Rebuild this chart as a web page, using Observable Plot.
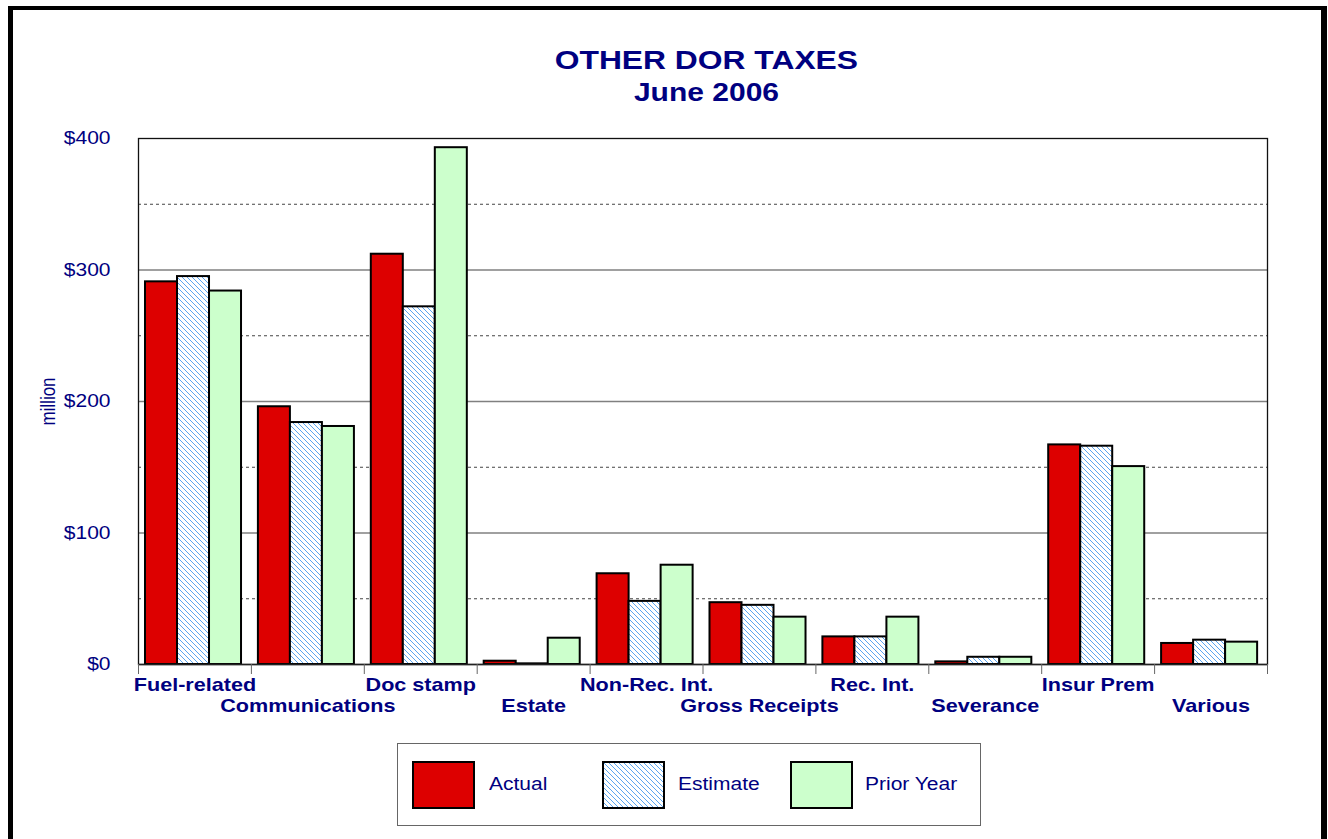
<!DOCTYPE html>
<html>
<head>
<meta charset="utf-8">
<script src="https://cdn.jsdelivr.net/npm/d3@7"></script>
<script src="https://cdn.jsdelivr.net/npm/@observablehq/plot@0.6"></script>
<style>
  body { margin: 0; background: #fff; }
  #page { position: relative; width: 1328px; height: 839px; overflow: hidden; background: #fff;
          font-family: "Liberation Sans", Arial, sans-serif; color: #000080; }
  #chart { position: absolute; left: 0; top: 0; }
  #frame { position: absolute; left: 8px; top: 6px; width: 1319px; height: 900px; box-sizing: border-box;
           border-left: 5px solid #000; border-top: 4px solid #000; border-right: 6px solid #000; pointer-events: none; }
  .t { position: absolute; left: 0; width: 1413px; text-align: center; font-weight: bold; line-height: 30px; white-space: nowrap; }
  .t span { display: inline-block; transform: scaleX(1.2); }
  #legend { position: absolute; left: 397px; top: 743px; width: 584px; height: 83px; box-sizing: border-box;
            border: 1px solid #666; background: #fff; }
  .sw { position: absolute; top: 17px; width: 63px; height: 48px; box-sizing: border-box; border: 2px solid #000; }
  .lt { position: absolute; top: 30px; line-height: 20px; font-size: 17.5px; transform: scaleX(1.2);
        transform-origin: left center; white-space: nowrap; }
</style>
</head>
<body>
<div id="page">
  <div id="chart"></div>
  <div id="frame"></div>
  <div class="t" id="t1" style="top:45px;font-size:26.5px;"><span>OTHER DOR TAXES</span></div>
  <div class="t" id="t2" style="top:77px;font-size:25px;"><span>June 2006</span></div>
  <div id="legend"></div>
</div>
<script>
// ---- data ----
const categories = ["Fuel-related", "Communications", "Doc stamp", "Estate", "Non-Rec. Int.",
                    "Gross Receipts", "Rec. Int.", "Severance", "Insur Prem", "Various"];
const actual   = [291, 196, 312, 2.5, 69, 47, 21, 2, 167, 16];
const estimate = [295, 184, 272, 0.5, 48, 45, 21, 5.5, 166, 18.5];
const prior    = [284, 181, 393, 20, 75.5, 36, 36, 5.5, 150.5, 17];
const seriesNames = ["Actual", "Estimate", "Prior Year"];
const yTicks = [0, 100, 200, 300, 400];
const gridMajor = [100, 200, 300];
const gridMinor = [50, 150, 250, 350];

// ---- styles ----
const fills = ["#dd0000", "url(#hatch)", "#ccffcc"];
const navy = "#000080";

const rows = categories.flatMap((c, i) =>
  [actual, estimate, prior].map((arr, j) => ({cat: c, i, j, series: seriesNames[j], value: arr[i]})));

const groupInset = 0.062, barW = 0.2835;
const barMark = j => Plot.rect(rows.filter(d => d.j === j), {
  x1: d => d.i + groupInset + d.j * barW,
  x2: d => d.i + groupInset + (d.j + 1) * barW,
  y1: 0, y2: d => d.value,
  fill: fills[j], stroke: "#000", strokeWidth: 2
});

const labelRows = categories.map((c, i) => ({c, i}));

const plot = Plot.plot({
  width: 1328, height: 839,
  marginTop: 138, marginBottom: 175, marginLeft: 138, marginRight: 61,
  x: {domain: [0, categories.length], axis: null},
  y: {domain: [0, 400], axis: null},
  style: {fontFamily: "'Liberation Sans', Arial, sans-serif", fontSize: "17.5px", color: navy, background: "transparent"},
  marks: [
    Plot.ruleY(gridMinor, {stroke: "#444", strokeWidth: 1, strokeDasharray: "3,3"}),
    Plot.ruleY(gridMajor, {stroke: "#808080", strokeWidth: 1.5}),
    barMark(0), barMark(1), barMark(2),
    Plot.frame({stroke: "#111", strokeWidth: 1.3}),
    Plot.ruleY([0], {stroke: "#222", strokeWidth: 1.5}),
    Plot.axisX({anchor: "bottom", ticks: d3.range(categories.length + 1), tickSize: 10,
                tickFormat: () => "", stroke: "#666", label: null}),
    Plot.axisY({anchor: "left", ticks: yTicks, tickFormat: d => "$" + d, tickSize: 0, tickPadding: 28,
                fontSize: 17.5, label: null}),
    Plot.text(["million"], {text: d => d, frameAnchor: "left", textAnchor: "middle", dx: -90, rotate: -90, fontSize: 17}),
    Plot.text(labelRows.filter(d => d.i % 2 === 0), {x: d => d.i + 0.5, y: 0, text: "c", dy: 21,
                fontWeight: "bold", fontSize: 18, fill: navy}),
    Plot.text(labelRows.filter(d => d.i % 2 === 1), {x: d => d.i + 0.5, y: 0, text: "c", dy: 42,
                fontWeight: "bold", fontSize: 18, fill: navy})
  ]
});

// hatch pattern
const defs = document.createElementNS("http://www.w3.org/2000/svg", "defs");
defs.innerHTML = `<pattern id="hatch" patternUnits="userSpaceOnUse" width="5" height="5">
  <rect width="5" height="5" fill="#fff"/>
  <path d="M-1,-1L6,6M-1,4L1,6M4,-1L6,1" stroke="#5aa5f0" stroke-width="1"/>
</pattern>`;
plot.insertBefore(defs, plot.firstChild);

// horizontal stretch of text, as in the reference
plot.querySelectorAll("text").forEach(t => {
  const tr = t.getAttribute("transform") || "";
  const x = parseFloat(t.getAttribute("x")) || 0;
  const y = parseFloat(t.getAttribute("y")) || 0;
  if (t.textContent === "million") {
    t.setAttribute("transform", `${tr} translate(0,${y}) scale(1,1.2) translate(0,${-y})`);
  } else {
    t.setAttribute("transform", `${tr} translate(${x},0) scale(1.2,1) translate(${-x},0)`);
  }
});
document.getElementById("chart").appendChild(plot);

// legend
const legend = document.getElementById("legend");
const swLeft = [14, 204, 392], txtLeft = [91, 280, 467];
seriesNames.forEach((name, j) => {
  const sw = document.createElement("div");
  sw.className = "sw";
  sw.style.left = swLeft[j] + "px";
  if (j === 1) {
    sw.style.background = "#fff";
    sw.innerHTML = `<svg width="59" height="44" style="display:block"><defs><pattern id="hatchL" patternUnits="userSpaceOnUse" width="5" height="5"><rect width="5" height="5" fill="#fff"/><path d="M-1,-1L6,6M-1,4L1,6M4,-1L6,1" stroke="#5aa5f0" stroke-width="1"/></pattern></defs><rect width="59" height="44" fill="url(#hatchL)"/></svg>`;
  } else {
    sw.style.background = fills[j];
  }
  legend.appendChild(sw);
  const lt = document.createElement("div");
  lt.className = "lt";
  lt.style.left = txtLeft[j] + "px";
  lt.textContent = name;
  legend.appendChild(lt);
});
</script>
</body>
</html>
